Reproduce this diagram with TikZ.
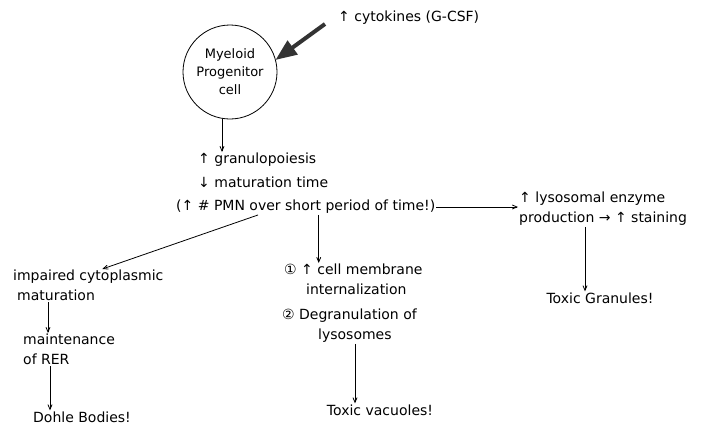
\documentclass[tikz,border=0pt]{standalone}
\usepackage{fontspec}
\setmainfont{DejaVu Sans}
\usetikzlibrary{arrows}

\tikzset{
  note/.style={font=\fontsize{14}{20}\selectfont, inner sep=1pt, align=left},
  flow/.style={->, >=angle 45, line width=0.8pt},
  push/.style={-triangle 45, line width=4pt, draw=black!80},
}

\begin{document}
\begin{tikzpicture}[x=1pt,y=-1pt]
\useasboundingbox (0,0) rectangle (709,434);
% progenitor cell and the cytokine push
\node[draw, circle, minimum size=94pt, line width=0.8pt, align=center,
  font=\fontsize{13}{18}\selectfont] (cell) at (230,72) {Myeloid\\Progenitor\\cell};
\node[note, anchor=west] (cyto) at (337,18) {↑ cytokines (G-CSF)};
\draw[push] ([xshift=-12pt,yshift=-6pt]cyto.west) -- (cell.15);
% central effect
\node[note, anchor=west] (gran) at (197,160) {↑ granulopoiesis};
\node[note, anchor=west] (matur) at (197,182) {↓ maturation time};
\node[note, anchor=west] (pmn) at (175,207) {(↑ \# PMN over short period of time!)};
\draw[flow] ([xshift=-8pt]cell.south) -- ([xshift=-8pt]cell.south |- gran.north);
% right branch
\node[note, anchor=north west] (lyso) at (518,191) {↑ lysosomal enzyme\\production → ↑ staining};
\node[note] (tgran) at (600,298) {Toxic Granules!};
\draw[flow] (pmn.east) -- (pmn.east -| lyso.west);
\draw[flow] ([xshift=-15pt]tgran.north |- lyso.south) -- ([xshift=-15pt]tgran.north);
% middle branch
\node[note, anchor=north west] (memb) at (283,263) {① ↑ cell membrane\\\hspace{22pt}internalization};
\node[note, anchor=north west] (degr) at (281,308) {② Degranulation of\\\hspace{36pt}lysosomes};
\node[note] (vacu) at (380,410) {Toxic vacuoles!};
\draw[flow] ([xshift=13pt]pmn.south) -- ([xshift=13pt]pmn.south |- memb.north);
\draw[flow] ([xshift=-25pt]vacu.north |- degr.south) -- ([xshift=-25pt]vacu.north);
% left branch
\node[note, anchor=north west] (impair) at (12,269) {impaired cytoplasmic\\\hspace{4pt}maturation};
\node[note, anchor=north west] (maint) at (22,333) {maintenance\\of RER};
\node[note, anchor=west] (dohle) at (32,417) {Dohle Bodies!};
\draw[flow] ([xshift=83pt]pmn.south west) -- ([xshift=14pt]impair.north);
\draw[flow] ([xshift=36pt]impair.south west) -- ([xshift=36pt]impair.south west |- maint.north);
\draw[flow] ([xshift=28pt]maint.south west) -- ([xshift=28pt]maint.south west |- dohle.north);
\end{tikzpicture}
\end{document}
